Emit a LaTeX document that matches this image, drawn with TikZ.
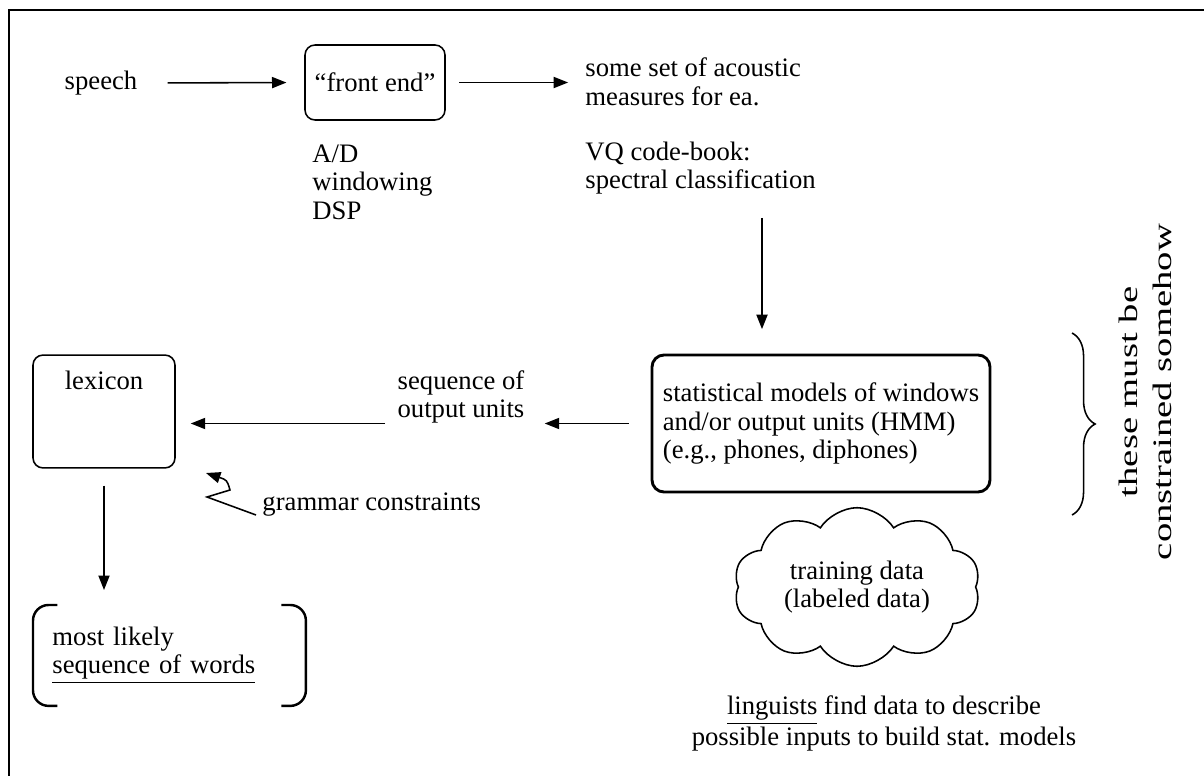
\documentclass[tikz,border=0pt]{standalone}
\usepackage{fontspec}
\setmainfont{Liberation Serif}
\usepackage{tikz}
\usetikzlibrary{arrows.meta,positioning,shapes.symbols,decorations.pathreplacing}

\begin{document}
\begin{tikzpicture}[x=.45pt,y=-.45pt,font=\fontsize{12}{12.8}\selectfont,
		txt/.style={align=left,inner sep=0pt},
		rbox/.style={draw,line width=.7pt,rounded corners=4.5pt},
		arr/.style={-{Triangle[length=6.5pt,width=5pt]},line width=.7pt},
		brk/.style={line width=1.1pt,rounded corners=7pt}]
	\useasboundingbox (0,0) rectangle (1204,776);
	\draw[line width=.9pt] (9,776) -- (9,10) -- (1204,10);
	\node[txt] (speech) at (101,83) {speech};
	\node[rbox,minimum width=63pt,minimum height=33.75pt] (front) at (375,82.5) {“front end”};
	\node[txt,anchor=west] (dsp) at (312,182) {A/D\\windowing\\DSP};
	\node[txt,anchor=west] (acoustic) at (585,82) {some set of acoustic\\measures for ea.};
	\node[txt,anchor=west] (vq) at (585,168) {VQ code-book:\\spectral classification};
	\node[rbox,line width=1.3pt,rounded corners=5.4pt,minimum width=152.1pt,minimum height=61.65pt,align=left] (stat) at (821,423.5) {statistical models of windows\\and/or output units (HMM)\\(e.g., phones, diphones)};
	\node[txt,align=center] (units) at (461,397) {sequence of\\output units};
	\node[rbox,minimum width=63.9pt,text height=8.2pt,text depth=27.8pt,inner ysep=7.4pt] (lexicon) at (104,411.5) {lexicon};
	\node[txt,anchor=west] (grammar) at (262,505) {grammar constraints};
	\node[txt,anchor=north west,text width=105.3pt,inner xsep=8.55pt,minimum height=45pt] (words) at (33,605) {most likely\\\underline{sequence of words}};
	\node[cloud,draw,line width=.7pt,cloud puffs=10,cloud puff arc=115,aspect=1.8,minimum width=111pt,minimum height=62.5pt,align=center] (cloud) at (857,587) {training data\\(labeled data)};
	\node[txt,align=center] (linguists) at (884,723) {\underline{linguists} find data to describe\\possible inputs to build stat. models};
	\node[txt,align=center,rotate=90,font=\fontsize{12}{15.3}\selectfont] (somehow) at (1145,392) {\scalebox{1.45}[1]{these must be}\\\scalebox{1.45}[1]{constrained somehow}};
	\draw[decorate,decoration={brace,amplitude=10.4pt},line width=.7pt] (1072,333) -- (1072,515);
	\draw[brk] ([xshift=11pt]words.north west) -- (words.north west) -- (words.south west) -- ([xshift=11pt]words.south west);
	\draw[brk] ([xshift=-11pt]words.north east) -- (words.north east) -- (words.south east) -- ([xshift=-11pt]words.south east);
	\coordinate (vqout) at (762,218);
	\coordinate (zigtip) at (206,473);
	\draw[arr,shorten <=13.5pt,shorten >=8pt] (speech.east) -- (front.west);
	\draw[arr,shorten <=6pt,shorten >=7.6pt] (front.east) -- (front.east -| acoustic.west);
	\draw[arr,shorten >=11pt] (vqout) -- (vqout |- stat.north);
	\draw[arr,shorten <=9.9pt,shorten >=9pt] (stat.west) -- (stat.west -| units.east);
	\draw[arr,shorten <=5.4pt,shorten >=6.75pt] (units.west |- stat.west) -- (lexicon.east |- stat.west);
	\draw[arr,shorten <=7.6pt,shorten >=6.75pt] (lexicon.south) -- (lexicon.south |- words.north);
	\draw[arr] ([shift={(-6,10)}]grammar.west) -- (207,497) -- (230,490) .. controls (227,480) .. (zigtip);
\end{tikzpicture}
\end{document}
